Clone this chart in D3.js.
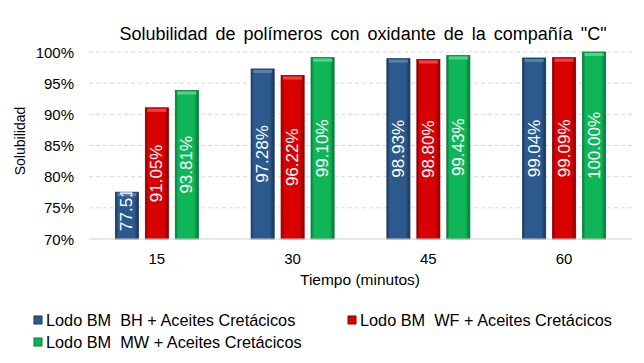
<!DOCTYPE html>
<html>
<head>
<meta charset="utf-8">
<script src="https://cdn.jsdelivr.net/npm/d3@7"></script>
<style>
  body { margin: 0; background: #fff; }
  text { font-family: "Liberation Sans", Arial, sans-serif; fill: #000; }
</style>
</head>
<body>
<div id="chart"></div>
<script>
var categories = ['15', '30', '45', '60'];
var seriesNames = [
  'Lodo BM  BH + Aceites Cretácicos',
  'Lodo BM  WF + Aceites Cretácicos',
  'Lodo BM  MW + Aceites Cretácicos'
];
var bhValues = [77.51, 97.28, 98.93, 99.04];
var wfValues = [91.05, 96.22, 98.80, 99.09];
var mwValues = [93.81, 99.10, 99.43, 100.00];
var yTicks = [70, 75, 80, 85, 90, 95, 100];

var seriesColors = [
  { id: 'gBH', mid: '#2d5a8c', edge: '#17365c', top: '#5f86b5' },
  { id: 'gWF', mid: '#d80000', edge: '#860000', top: '#f05050' },
  { id: 'gMW', mid: '#0fb657', edge: '#06773a', top: '#5ad98e' }
];

var width = 644, height = 363;
var margin = { left: 89, right: 12, top: 52, bottom: 124 };

var svg = d3.select('#chart').append('svg')
  .attr('width', width).attr('height', height);

var defs = svg.append('defs');
seriesColors.forEach(function (c) {
  var g = defs.append('linearGradient').attr('id', c.id)
    .attr('x1', '0').attr('x2', '1').attr('y1', '0').attr('y2', '0');
  g.append('stop').attr('offset', '0%').attr('stop-color', c.edge);
  g.append('stop').attr('offset', '12%').attr('stop-color', c.mid);
  g.append('stop').attr('offset', '80%').attr('stop-color', c.mid);
  g.append('stop').attr('offset', '100%').attr('stop-color', c.edge);
});

var x0 = d3.scaleBand().domain(categories)
  .range([margin.left, width - margin.right]);
var x1 = d3.scaleBand().domain(d3.range(3))
  .range([0, x0.bandwidth()]).paddingInner(0.23).paddingOuter(0.88);
var y = d3.scaleLinear().domain([70, 100])
  .range([height - margin.bottom, margin.top]);

// gridlines
svg.append('g').selectAll('line')
  .data(yTicks.filter(function (d) { return d > 70; }))
  .enter().append('line')
  .attr('x1', margin.left).attr('x2', width - margin.right)
  .attr('y1', function (d) { return y(d); }).attr('y2', function (d) { return y(d); })
  .attr('stroke', '#d9d9d9').attr('stroke-width', 1)
  .attr('stroke-dasharray', '4,3');

// y axis labels
svg.append('g').selectAll('text')
  .data(yTicks).enter().append('text')
  .attr('x', 74).attr('y', function (d) { return y(d); })
  .attr('text-anchor', 'end').attr('dominant-baseline', 'central')
  .attr('font-size', 15)
  .text(function (d) { return d + '%'; });

var series = [bhValues, wfValues, mwValues];
var bars = [];
categories.forEach(function (cat, ci) {
  series.forEach(function (vals, si) {
    bars.push({ cat: cat, si: si, v: vals[ci] });
  });
});

var barG = svg.append('g');
bars.forEach(function (b, i) {
  var bx = x0(b.cat) + x1(b.si);
  var bw = x1.bandwidth();
  var by = y(b.v);
  var bh = y(70) - by;
  var c = seriesColors[b.si];
  defs.append('clipPath').attr('id', 'clip' + i)
    .append('rect').attr('x', bx).attr('y', by).attr('width', bw).attr('height', bh);
  barG.append('rect')
    .attr('x', bx).attr('y', by).attr('width', bw).attr('height', bh)
    .attr('fill', 'url(#' + c.id + ')')
    .attr('stroke', c.edge).attr('stroke-width', 0.8);
  // bevel on top
  barG.append('rect')
    .attr('x', bx + 2).attr('y', by + 1).attr('width', bw - 4).attr('height', 3)
    .attr('fill', c.top).attr('opacity', 0.85);
  var label = barG.append('g')
    .attr('clip-path', 'url(#clip' + i + ')')
    .append('text')
    .attr('transform', 'translate(' + (bx + bw / 2) + ',' + (by + bh / 2) + ') rotate(-90)')
    .attr('text-anchor', 'middle').attr('dominant-baseline', 'central')
    .attr('font-size', 17).style('fill', '#fff')
    .text(b.v.toFixed(2) + '%');
  // label longer than the bar: start it near the base, let the top clip
  if (label.node().getComputedTextLength() > bh - 4) {
    label.attr('text-anchor', 'start')
      .attr('transform', 'translate(' + (bx + bw / 2) + ',' + (y(70) - 8) + ') rotate(-90)');
  }
});

// x axis line
svg.append('line')
  .attr('x1', margin.left).attr('x2', width - margin.right)
  .attr('y1', y(70)).attr('y2', y(70))
  .attr('stroke', '#d0d0d0').attr('stroke-width', 1);

svg.append('g').selectAll('text')
  .data(categories).enter().append('text')
  .attr('x', function (d) { return x0(d) + x0.bandwidth() / 2; })
  .attr('y', 264)
  .attr('text-anchor', 'middle').attr('font-size', 15)
  .text(function (d) { return d; });

svg.append('text')
  .attr('x', 360).attr('y', 285)
  .attr('text-anchor', 'middle').attr('font-size', 15.5)
  .text('Tiempo (minutos)');

svg.append('text')
  .attr('transform', 'translate(25,141) rotate(-90)')
  .attr('text-anchor', 'middle').attr('font-size', 14)
  .text('Solubilidad');

svg.append('text')
  .attr('x', 363).attr('y', 40)
  .attr('text-anchor', 'middle').attr('font-size', 18)
  .attr('word-spacing', 3)
  .text('Solubilidad de polímeros con oxidante de la compañía "C"');

// legend
var legendPos = [[34, 320], [348, 320], [34, 342]];
seriesNames.forEach(function (name, i) {
  var p = legendPos[i];
  var c = seriesColors[i];
  svg.append('rect')
    .attr('x', p[0]).attr('y', p[1] - 4).attr('width', 8).attr('height', 8)
    .attr('fill', c.mid).attr('stroke', c.edge).attr('stroke-width', 1);
  svg.append('text')
    .attr('x', p[0] + 12).attr('y', p[1])
    .attr('dominant-baseline', 'central').attr('font-size', 16.3)
    .attr('xml:space', 'preserve').style('white-space', 'pre')
    .text(name);
});
</script>
</body>
</html>
